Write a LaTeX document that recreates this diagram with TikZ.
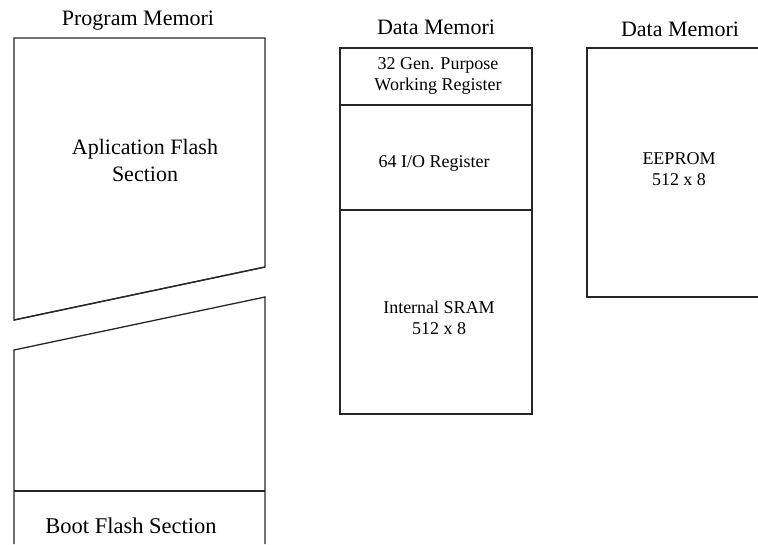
\documentclass[tikz,border=0pt]{standalone}
\usepackage{fontspec}
\setmainfont{Liberation Serif}
\begin{document}
\begin{tikzpicture}[x=1pt,y=-1pt,
  outline/.style={draw=black!85,line width=1.3pt,line join=miter},
  title/.style={font=\fontsize{22}{24}\selectfont,inner sep=0pt,anchor=base},
  bigtext/.style={font=\fontsize{22}{27}\selectfont,inner sep=0pt,align=center},
  smalltext/.style={font=\fontsize{18}{21.5}\selectfont,inner sep=0pt,align=center}]
\useasboundingbox (0,0) rectangle (758,544);

% ---- Program memory (split by a broken slanted gap) ----
\path[outline] (265,267) -- (265,38) -- (14,38) -- (14,320) -- cycle;
\draw[outline] (265,267) -- (14,320);
\draw[outline] (14,544) -- (14,350) -- (265,297) -- (265,544);
\draw[outline] (14,491) -- (265,491);
\node[title] (pmtitle) at (138,25) {Program Memori};
\node[bigtext] (appflash) at (145,160) {Aplication Flash\\Section};
\node[title,font=\fontsize{22.5}{24}\selectfont] (bootflash) at (131,533) {Boot Flash Section};

% ---- Data memory (registers and SRAM) ----
\draw[outline] (340,48) rectangle (532,414);
\draw[outline] (340,105) -- (532,105);
\draw[outline] (340,210) -- (532,210);
\node[title] (dmtitle) at (436,34) {Data Memori};
\node[smalltext] (gpr) at (438,76) {32 Gen. Purpose\\Working Register};
\node[smalltext,anchor=base] (io) at (434,167) {64 I/O Register};
\node[smalltext] (sram) at (439,318) {Internal SRAM\\512 x 8};

% ---- Data memory (EEPROM) ----
\draw[outline] (758,48) -- (587,48) -- (587,297) -- (758,297);
\node[title] (eetitle) at (680,36) {Data Memori};
\node[smalltext] (eeprom) at (679,169) {EEPROM\\512 x 8};
\end{tikzpicture}
\end{document}
